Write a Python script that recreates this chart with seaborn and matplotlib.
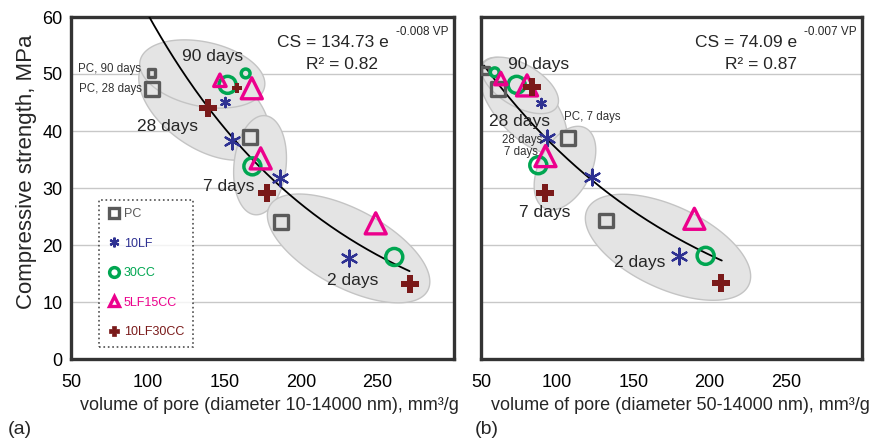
import numpy as np
import pandas as pd
import seaborn as sns
import matplotlib.pyplot as plt
from matplotlib.lines import Line2D

# ages in each list: 2, 7, 28, 90 days
ages = ['2 days', '7 days', '28 days', '90 days']
mixes = ['PC', '10LF', '30CC', '5LF15CC', '10LF30CC']

# (a) volume of pore, diameter 10-14000 nm
pc_a_vp = [186.8, 166.7, 102.6, 102.6]
pc_a_cs = [24.0, 39.0, 47.4, 50.2]
lf_a_vp = [231.2, 186.2, 155.4, 150.6]
lf_a_cs = [17.8, 31.7, 38.2, 45.0]
cc_a_vp = [261.0, 168.4, 152.2, 164.0]
cc_a_cs = [17.9, 33.8, 48.1, 50.1]
lfcc_a_vp = [248.9, 173.8, 168.0, 147.2]
lfcc_a_cs = [23.8, 35.2, 47.5, 48.9]
lf30_a_vp = [271.6, 178.2, 139.2, 158.6]
lf30_a_cs = [13.1, 29.1, 44.1, 47.5]

# (b) volume of pore, diameter 50-14000 nm
pc_b_vp = [132.0, 107.3, 60.9, 52.8]
pc_b_cs = [24.3, 38.7, 47.3, 50.6]
lf_b_vp = [180.1, 122.8, 93.6, 89.4]
lf_b_cs = [18.1, 32.0, 38.7, 44.9]
cc_b_vp = [197.4, 87.6, 73.4, 59.0]
cc_b_cs = [18.1, 34.0, 48.1, 50.3]
lfcc_b_vp = [190.0, 92.3, 80.2, 63.0]
lfcc_b_cs = [24.6, 35.6, 48.0, 49.2]
lf30_b_vp = [207.5, 92.0, 83.5, np.nan]
lf30_b_cs = [13.3, 29.2, 47.7, np.nan]

# regression CS = A exp(B VP)
fit_a = (134.73, -0.008, 100, 271)
fit_b = (74.09, -0.007, 52, 208)

rows = []
for panel, series in [('a', [(pc_a_vp, pc_a_cs), (lf_a_vp, lf_a_cs), (cc_a_vp, cc_a_cs),
                             (lfcc_a_vp, lfcc_a_cs), (lf30_a_vp, lf30_a_cs)]),
                      ('b', [(pc_b_vp, pc_b_cs), (lf_b_vp, lf_b_cs), (cc_b_vp, cc_b_cs),
                             (lfcc_b_vp, lfcc_b_cs), (lf30_b_vp, lf30_b_cs)])]:
    for mix, (vp, cs) in zip(mixes, series):
        for age, v, c in zip(ages, vp, cs):
            rows.append(dict(panel=panel, mix=mix, age=age, vp=v, cs=c))
df = pd.DataFrame(rows).dropna()

colors = {'PC': '#5a5a5a', '10LF': '#2e3192', '30CC': '#00a651',
          '5LF15CC': '#ec008c', '10LF30CC': '#7a1a1a'}
# marker, size big, size small, linewidth, filled
styles = {'PC': ('s', 100, 30, 2.4, False),
          '10LF': ((6, 2, 0), 130, 45, 1.6, True),
          '30CC': ('o', 150, 40, 2.5, False),
          '5LF15CC': ('^', 230, 80, 2.4, False),
          '10LF30CC': ('P', 160, 60, 0, True)}

# ellipses: centre x, centre y, major (x units), minor (x units), angle
ell_a = [(137, 44.5, 97, 55, -35), (135.7, 50.0, 83, 42, -12),
         (173.4, 34.0, 65, 34, 84), (231.2, 19.4, 117, 51, -28)]
ell_b = [(77.6, 44.5, 77, 37, -49), (75.6, 48.0, 56, 28, -30),
         (105.1, 33.5, 59, 34, 63), (172.7, 19.6, 117, 54, -25)]

sns.set_style('white')
plt.rcParams['font.family'] = ['Liberation Sans', 'DejaVu Sans']

fig = plt.figure(figsize=(8.7, 4.44), dpi=100)
ax_a = fig.add_axes([71 / 870, 85 / 444, 383 / 870, 342 / 444])
ax_b = fig.add_axes([481 / 870, 85 / 444, 381 / 870, 342 / 444])

xlabels = ['volume of pore (diameter 10-14000 nm), mm\u00b3/g',
           'volume of pore (diameter 50-14000 nm), mm\u00b3/g']

for ax, panel, ells, fit, xl, xc in [(ax_a, 'a', ell_a, fit_a, xlabels[0], 0.517),
                                     (ax_b, 'b', ell_b, fit_b, xlabels[1], 0.523)]:
    ax.set_xlim(50, 300)
    ax.set_ylim(0, 60)
    bbox = ax.get_position()
    k = (bbox.height * 444 / 60) / (bbox.width * 870 / 250)
    t = np.linspace(0, 2 * np.pi, 200)
    for cx, cy, w, h, ang in ells:
        a = np.deg2rad(ang)
        u = w / 2 * np.cos(t)
        v = h / 2 * np.sin(t)
        ex = cx + u * np.cos(a) - v * np.sin(a)
        ey = cy + (u * np.sin(a) + v * np.cos(a)) / k
        ax.fill(ex, ey, facecolor='#e4e4e4', edgecolor='#c4c4c4', lw=1, zorder=1)

    A, B, x0, x1 = fit
    xs = np.linspace(x0, x1, 200)
    sns.lineplot(x=xs, y=A * np.exp(B * xs), ax=ax, color='black', lw=1.3, zorder=3)

    sub = df[df.panel == panel]
    for mix in mixes:
        m, sb, ss, lw, filled = styles[mix]
        c = colors[mix]
        for small in [False, True]:
            d = sub[(sub.mix == mix) & ((sub.age == '90 days') == small)]
            if d.empty:
                continue
            sns.scatterplot(data=d, x='vp', y='cs', ax=ax, marker=m,
                            s=ss if small else sb, color=c,
                            facecolor=c if filled else 'none', edgecolor=c,
                            linewidth=lw, zorder=4, legend=False)

    ax.set_xticks([50, 100, 150, 200, 250])
    ax.set_yticks(range(0, 61, 10))
    ax.yaxis.grid(True, color='#c8c8c8', lw=1)
    ax.set_axisbelow(True)
    ax.tick_params(direction='in', length=4, width=1, colors='#333333',
                   labelcolor='black', labelsize=13)
    ax.tick_params(axis='x', pad=11)
    ax.tick_params(axis='y', pad=6)
    for s in ax.spines.values():
        s.set_linewidth(2.4)
        s.set_color('#333333')
    ax.set_xlabel(xl, fontsize=13, labelpad=4)
    ax.xaxis.label.set_x(xc)
    ax.set_ylabel('')

ax_a.set_ylabel('Compressive strength, MPa', fontsize=16, labelpad=4)
ax_a.yaxis.label.set_y(0.547)
ax_b.tick_params(axis='y', labelleft=False)

# age labels
big = dict(fontsize=12.5, ha='center', va='center', zorder=5)
sm = dict(fontsize=8.3, va='center', color='#333333', zorder=5)
ax_a.text(142.4, 53.0, '90 days', **big)
ax_a.text(113.2, 40.8, '28 days', **big)
ax_a.text(153.2, 30.2, '7 days', **big)
ax_a.text(233.8, 13.8, '2 days', **big)
ax_a.text(96, 50.9, 'PC, 90 days', ha='right', **sm)
ax_a.text(96, 47.3, 'PC, 28 days', ha='right', **sm)

ax_b.text(87.9, 51.6, '90 days', **big)
ax_b.text(75.1, 41.6, '28 days', **big)
ax_b.text(92.0, 25.7, '7 days', **big)
ax_b.text(153.9, 16.9, '2 days', **big)
ax_b.text(122.8, 42.4, 'PC, 7 days', ha='center', **sm)
ax_b.text(76.7, 38.5, '28 days', ha='center', **sm)
ax_b.text(76.0, 36.3, '7 days', ha='center', **sm)

# equations
ax_a.text(0.684, 0.924, 'CS = 134.73 e', transform=ax_a.transAxes, fontsize=12.5,
          ha='center', va='center')
ax_a.text(0.848, 0.955, '-0.008 VP', transform=ax_a.transAxes, fontsize=8.5,
          ha='left', va='center')
ax_a.text(0.708, 0.860, 'R\u00b2 = 0.82', transform=ax_a.transAxes, fontsize=12.5,
          ha='center', va='center')
ax_b.text(0.696, 0.924, 'CS = 74.09 e', transform=ax_b.transAxes, fontsize=12.5,
          ha='center', va='center')
ax_b.text(0.848, 0.955, '-0.007 VP', transform=ax_b.transAxes, fontsize=8.5,
          ha='left', va='center')
ax_b.text(0.735, 0.860, 'R\u00b2 = 0.87', transform=ax_b.transAxes, fontsize=12.5,
          ha='center', va='center')

# legend
handles = []
for mix in mixes:
    m, sb, ss, lw, filled = styles[mix]
    c = colors[mix]
    handles.append(Line2D([], [], ls='', marker=m, color=c, ms=7,
                          mfc=c if filled else 'none', mec=c, mew=lw if lw else 0.5))
leg = ax_a.legend(handles, mixes, loc='lower left', bbox_to_anchor=(0.073, 0.035),
                  borderaxespad=0, fontsize=9, labelcolor=[colors[m] for m in mixes],
                  frameon=True, fancybox=False, labelspacing=1.4, handletextpad=0.3,
                  borderpad=0.7, handlelength=1.0)
fr = leg.get_frame()
fr.set_edgecolor('#222222')
fr.set_linestyle(':')
fr.set_linewidth(1.2)
fr.set_facecolor('white')
leg.set_zorder(6)

fig.text(0.023, 0.032, '(a)', fontsize=14, ha='center', va='center')
fig.text(0.560, 0.032, '(b)', fontsize=14, ha='center', va='center')

fig.savefig('out.png', dpi=100)
